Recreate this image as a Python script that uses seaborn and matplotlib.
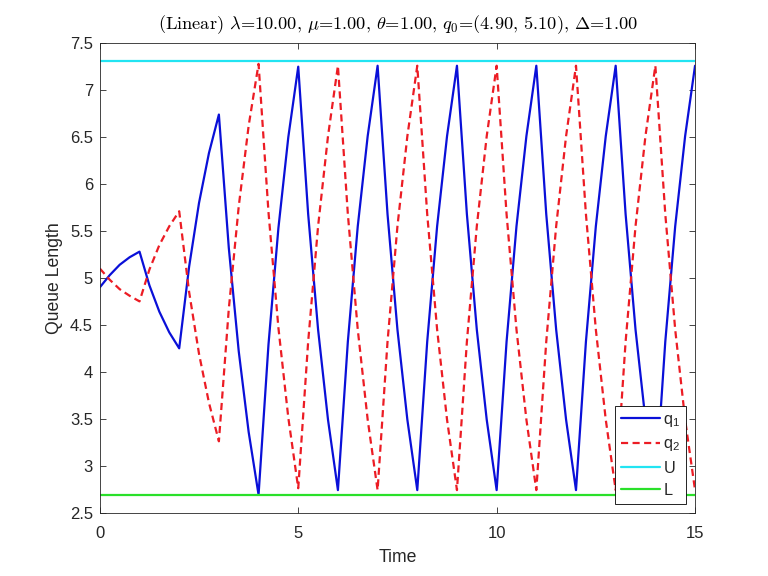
import matplotlib
matplotlib.use("Agg")
import matplotlib.pyplot as plt
import seaborn as sns
import pandas as pd

# ---- data ----
time = [0.0, 0.25, 0.5, 0.75, 1.0, 1.25, 1.5, 1.75, 2.0, 2.25, 2.5, 2.75, 3.0,
        3.25, 3.5, 3.75, 4.0, 4.25, 4.5, 4.75, 5.0, 5.25, 5.5, 5.75, 6.0,
        6.25, 6.5, 6.75, 7.0, 7.25, 7.5, 7.75, 8.0, 8.25, 8.5, 8.75, 9.0,
        9.25, 9.5, 9.75, 10.0, 10.25, 10.5, 10.75, 11.0, 11.25, 11.5, 11.75, 12.0,
        12.25, 12.5, 12.75, 13.0, 13.25, 13.5, 13.75, 14.0, 14.25, 14.5, 14.75, 15.0]

q1 = [4.90, 5.03, 5.14, 5.22, 5.28,
      4.92, 4.64, 4.42, 4.25,
      5.12, 5.80, 6.33, 6.74,
      5.32, 4.22, 3.36, 2.69,
      4.29, 5.53, 6.50, 7.25,
      5.68, 4.45, 3.49, 2.74,
      4.32, 5.55, 6.51, 7.26,
      5.68, 4.45, 3.49, 2.74,
      4.32, 5.55, 6.51, 7.26,
      5.68, 4.45, 3.49, 2.74,
      4.32, 5.55, 6.51, 7.26,
      5.68, 4.45, 3.49, 2.74,
      4.32, 5.55, 6.51, 7.26,
      5.68, 4.45, 3.49, 2.74,
      4.32, 5.55, 6.51, 7.26]

q2 = [5.10, 4.98, 4.88, 4.81, 4.75,
      5.09, 5.35, 5.55, 5.71,
      4.85, 4.19, 3.67, 3.26,
      4.67, 5.76, 6.62, 7.28,
      5.70, 4.47, 3.51, 2.76,
      4.32, 5.55, 6.51, 7.26,
      5.68, 4.45, 3.49, 2.74,
      4.32, 5.55, 6.51, 7.26,
      5.68, 4.45, 3.49, 2.74,
      4.32, 5.55, 6.51, 7.26,
      5.68, 4.45, 3.49, 2.74,
      4.32, 5.55, 6.51, 7.26,
      5.68, 4.45, 3.49, 2.74,
      4.32, 5.55, 6.51, 7.26,
      5.68, 4.45, 3.49, 2.74]

upper_bound = 7.31
lower_bound = 2.69

x_ticks = [0, 5, 10, 15]
y_ticks = [2.5, 3, 3.5, 4, 4.5, 5, 5.5, 6, 6.5, 7, 7.5]
y_tick_labels = ["2.5", "3", "3.5", "4", "4.5", "5", "5.5", "6", "6.5", "7", "7.5"]

title_text = (r"(Linear) $\lambda$=10.00, $\mu$=1.00, $\theta$=1.00, "
              r"$q_0$=(4.90, 5.10), $\Delta$=1.00")

# ---- styling ----
sns.set_style("white")
plt.rcParams["font.family"] = ["Liberation Sans", "DejaVu Sans"]
plt.rcParams["mathtext.fontset"] = "custom"
plt.rcParams["mathtext.rm"] = "Liberation Sans"
plt.rcParams["mathtext.it"] = "Liberation Sans"

df = pd.DataFrame({"t": time, "q1": q1, "q2": q2})

fig = plt.figure(figsize=(7.68, 5.76), dpi=100)
ax = fig.add_axes([0.13, 0.11, 0.775, 0.815])

c_blue = "#0a10d8"
c_red = "#ec1c24"
c_cyan = "#22e4f2"
c_green = "#2ae02a"

sns.lineplot(data=df, x="t", y="q1", ax=ax, color=c_blue, lw=1.6, label=r"q$_1$")
sns.lineplot(data=df, x="t", y="q2", ax=ax, color=c_red, lw=1.6, label=r"q$_2$")
ax.lines[-1].set_dashes((3.2, 2.0))
ax.axhline(upper_bound, color=c_cyan, lw=1.6, label="U")
ax.axhline(lower_bound, color=c_green, lw=1.6, label="L")

ax.set_xlim(0, 15)
ax.set_ylim(2.5, 7.5)
ax.set_xticks(x_ticks)
ax.set_xticklabels([str(v) for v in x_ticks])
ax.set_yticks(y_ticks)
ax.set_yticklabels(y_tick_labels)

axis_col = "#262626"
for s in ax.spines.values():
    s.set_color(axis_col)
    s.set_linewidth(0.6)
    s.set_visible(True)
ax.tick_params(direction="in", length=4.5, width=0.6, colors=axis_col,
               labelsize=12, top=True, right=True, bottom=True, left=True,
               pad=5)
ax.tick_params(axis="x", pad=9.5)

ax.set_xlabel("Time", fontsize=12.7, color=axis_col, labelpad=6)
ax.set_ylabel("Queue Length", fontsize=12.7, color=axis_col, labelpad=5)
ax.set_title(title_text, fontsize=13.2, fontfamily="cmr10", math_fontfamily="cm",
             color="black", pad=10)

leg = ax.legend(loc="lower right", fontsize=11.7, frameon=True, fancybox=False,
                framealpha=1.0, edgecolor="black", borderaxespad=0.55,
                handlelength=2.4, handletextpad=0.2, labelspacing=0.45,
                borderpad=0.35)
leg.get_frame().set_linewidth(0.6)

fig.savefig("out.png", dpi=100)
